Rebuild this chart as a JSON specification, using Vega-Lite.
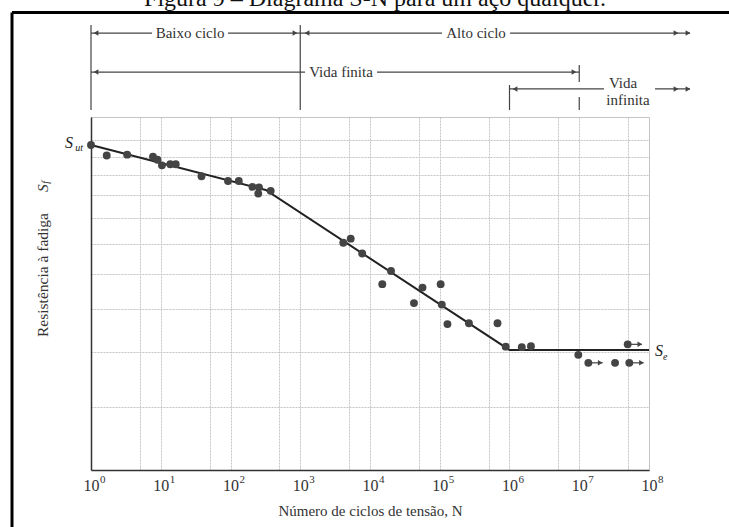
{
  "$schema": "https://vega.github.io/schema/vega-lite/v6.json",
  "width": 558,
  "height": 353,
  "autosize": {"type": "none"},
  "padding": {"left": 91, "top": 117, "right": 80, "bottom": 57},
  "background": "white",
  "config": {
    "font": "Liberation Serif",
    "view": {"stroke": "#c4c4c4", "strokeWidth": 1}
  },
  "datasets": {
    "pts": [
      {"N": 1, "S": 116.8}, {"N": 1.68, "S": 110.6}, {"N": 3.3, "S": 111.1}, {"N": 7.74, "S": 109.9},
      {"N": 8.98, "S": 108.2}, {"N": 10.4, "S": 105.1}, {"N": 13.7, "S": 105.7}, {"N": 16.4, "S": 105.7},
      {"N": 38.4, "S": 99.3}, {"N": 92.1, "S": 96.9}, {"N": 131.5, "S": 96.9}, {"N": 206.7, "S": 94.0},
      {"N": 256, "S": 93.8}, {"N": 250, "S": 90.8}, {"N": 377, "S": 92.1}, {"N": 4140, "S": 70.4},
      {"N": 5290, "S": 71.9}, {"N": 7730, "S": 66.6}, {"N": 15000, "S": 56.8}, {"N": 20000, "S": 60.8},
      {"N": 42700, "S": 51.5}, {"N": 56600, "S": 55.8}, {"N": 103000, "S": 56.8}, {"N": 107000, "S": 51.1},
      {"N": 129000, "S": 46.2}, {"N": 262000, "S": 46.4}, {"N": 673000, "S": 46.4}, {"N": 883000, "S": 41.1},
      {"N": 1500000, "S": 41.0}, {"N": 2030000, "S": 41.2}, {"N": 9690000, "S": 39.4}, {"N": 13500000, "S": 37.8},
      {"N": 32600000, "S": 37.8}, {"N": 52200000, "S": 37.8}, {"N": 49500000, "S": 41.6}
    ],
    "fit": [
      {"N": 1, "S": 116.8}, {"N": 320, "S": 92.5}, {"N": 1000000, "S": 40.4}, {"N": 100000000, "S": 40.4}
    ],
    "frame": [
      {"N": 0.0737, "N2": 3900000000, "S": 231.9, "S2": 231.9},
      {"N": 0.0737, "N2": 0.0737, "S": 231.9, "S2": 13.6}
    ],
    "guides": [
      {"N": 1, "N2": 1, "S": 217.4, "S2": 140},
      {"N": 1000, "N2": 1000, "S": 217.4, "S2": 140},
      {"N": 1000000, "N2": 1000000, "S": 159.3, "S2": 140},
      {"N": 10000000, "N2": 10000000, "S": 176.7, "S2": 161.8},
      {"N": 10000000, "N2": 10000000, "S": 149.7, "S2": 140},
      {"N": 1, "N2": 7.49, "S": 208.5, "S2": 208.5},
      {"N": 92.1, "N2": 1000, "S": 208.5, "S2": 208.5},
      {"N": 1000, "N2": 107700, "S": 208.5, "S2": 208.5},
      {"N": 1017000, "N2": 387000000, "S": 208.5, "S2": 208.5},
      {"N": 1, "N2": 1170, "S": 170.4, "S2": 170.4},
      {"N": 12600, "N2": 10000000, "S": 170.4, "S2": 170.4},
      {"N": 1000000, "N2": 22600000, "S": 156.1, "S2": 156.1},
      {"N": 122000000, "N2": 387000000, "S": 156.1, "S2": 156.1},
      {"N": 13500000, "N2": 21600000, "S": 37.8, "S2": 37.8},
      {"N": 52200000, "N2": 83500000, "S": 37.8, "S2": 37.8},
      {"N": 49500000, "N2": 79000000, "S": 41.6, "S2": 41.6}
    ],
    "heads": [
      {"N": 1.18, "S": 208.5, "dir": "left"}, {"N": 841, "S": 208.5, "dir": "right"},
      {"N": 1250, "S": 208.5, "dir": "left"}, {"N": 244000000, "S": 208.5, "dir": "right"},
      {"N": 362000000, "S": 208.5, "dir": "right"},
      {"N": 1.18, "S": 170.4, "dir": "left"}, {"N": 8410000, "S": 170.4, "dir": "right"},
      {"N": 1200000, "S": 156.1, "dir": "left"}, {"N": 244000000, "S": 156.1, "dir": "right"},
      {"N": 362000000, "S": 156.1, "dir": "right"},
      {"N": 20000000, "S": 37.8, "dir": "right"}, {"N": 78000000, "S": 37.8, "dir": "right"},
      {"N": 74000000, "S": 41.6, "dir": "right"}
    ],
    "labels": [
      {"N": 26.3, "S": 208.5, "t": "Baixo ciclo"},
      {"N": 331000, "S": 208.5, "t": "Alto ciclo"},
      {"N": 3840, "S": 170.4, "t": "Vida finita"},
      {"N": 42400000, "S": 161.0, "t": "Vida"},
      {"N": 50000000, "S": 147.4, "t": "infinita"}
    ],
    "caption": [
      {"N": 11800, "S": 239.9, "t": "Figura 9 – Diagrama S-N para um aço qualquer."}
    ],
    "ytitle": [{"N": 0.205, "S": 82.1, "t": "Resistência à fadiga"}],
    "ytitleS": [{"N": 0.205, "S": 91.5, "t": "S"}],
    "ytitleF": [{"N": 0.205, "S": 95.6, "t": "f"}],
    "sut": [{"N": 1, "S": 116.8, "s": "S", "sub": "ut"}],
    "se": [{"N": 100000000, "S": 40.4, "s": "S", "sub": "e"}],
    "exps": [
      {"N": 1, "S": 20.08, "e": "0"}, {"N": 10, "S": 20.08, "e": "1"}, {"N": 100, "S": 20.08, "e": "2"},
      {"N": 1000, "S": 20.08, "e": "3"}, {"N": 10000, "S": 20.08, "e": "4"}, {"N": 100000, "S": 20.08, "e": "5"},
      {"N": 1000000, "S": 20.08, "e": "6"}, {"N": 10000000, "S": 20.08, "e": "7"}, {"N": 100000000, "S": 20.08, "e": "8"}
    ]
  },
  "encoding": {
    "x": {
      "field": "N", "type": "quantitative",
      "scale": {"type": "log", "domain": [1, 100000000], "nice": false},
      "axis": {
        "values": [1, 5, 10, 50, 100, 500, 1000, 5000, 10000, 50000, 100000, 500000, 1000000, 5000000, 10000000, 50000000, 100000000],
        "labelExpr": "abs(log(datum.value)/LN10 - round(log(datum.value)/LN10)) < 0.01 ? '10' : ''",
        "labelOverlap": false, "labelFlush": false, "labelAngle": 0,
        "ticks": false, "tickSize": 0,
        "labelPadding": 15, "labelBaseline": "middle", "labelFontSize": 16, "labelColor": "#333",
        "domainColor": "#333", "domainWidth": 1.5,
        "grid": true, "gridColor": "#c4c4c4", "gridDash": [2, 1],
        "title": "Número de ciclos de tensão, N",
        "titleFontSize": 15, "titleFontWeight": "normal", "titleColor": "#333",
        "titleY": 40, "titleBaseline": "middle"
      }
    },
    "y": {
      "field": "S", "type": "quantitative",
      "scale": {"type": "log", "domain": [21.7, 135], "nice": false, "zero": false},
      "axis": {
        "values": [30, 40, 50, 60, 70, 80, 90, 100, 110, 120],
        "labels": false, "ticks": false, "title": null,
        "domainColor": "#333", "domainWidth": 1.5,
        "grid": true, "gridColor": "#c4c4c4", "gridDash": [2, 1]
      }
    }
  },
  "layer": [
    {
      "data": {"name": "frame"},
      "mark": {"type": "rule", "color": "#000", "strokeWidth": 3},
      "encoding": {"x2": {"field": "N2"}, "y2": {"field": "S2"}}
    },
    {
      "data": {"name": "guides"},
      "mark": {"type": "rule", "color": "#444", "strokeWidth": 1.2},
      "encoding": {"x2": {"field": "N2"}, "y2": {"field": "S2"}}
    },
    {
      "data": {"name": "heads"},
      "mark": {"type": "point", "filled": true, "color": "#444", "size": 30, "opacity": 1},
      "encoding": {
        "shape": {"field": "dir", "type": "nominal", "scale": {"domain": ["left", "right"], "range": ["triangle-left", "triangle-right"]}, "legend": null}
      }
    },
    {
      "data": {"name": "labels"},
      "mark": {"type": "text", "fontSize": 15, "color": "#333", "align": "center", "baseline": "middle"},
      "encoding": {"text": {"field": "t"}}
    },
    {
      "data": {"name": "caption"},
      "mark": {"type": "text", "fontSize": 24, "color": "#111", "align": "center", "baseline": "alphabetic"},
      "encoding": {"text": {"field": "t"}}
    },
    {
      "data": {"name": "ytitle"},
      "mark": {"type": "text", "fontSize": 15.5, "color": "#333", "angle": 270, "align": "right", "baseline": "middle"},
      "encoding": {"text": {"field": "t"}}
    },
    {
      "data": {"name": "ytitleS"},
      "mark": {"type": "text", "fontSize": 15.5, "fontStyle": "italic", "color": "#333", "angle": 270, "align": "left", "baseline": "middle"},
      "encoding": {"text": {"field": "t"}}
    },
    {
      "data": {"name": "ytitleF"},
      "mark": {"type": "text", "fontSize": 10, "fontStyle": "italic", "color": "#333", "angle": 270, "align": "left", "baseline": "middle", "dy": 3},
      "encoding": {"text": {"field": "t"}}
    },
    {
      "data": {"name": "fit"},
      "mark": {"type": "line", "color": "#222", "strokeWidth": 2},
      "encoding": {}
    },
    {
      "data": {"name": "pts"},
      "mark": {"type": "point", "filled": true, "color": "#444", "size": 62, "opacity": 1},
      "encoding": {}
    },
    {
      "data": {"name": "sut"},
      "mark": {"type": "text", "fontSize": 16, "fontStyle": "italic", "color": "#222", "align": "right", "baseline": "middle", "dx": -18, "dy": -2},
      "encoding": {"text": {"field": "s"}}
    },
    {
      "data": {"name": "sut"},
      "mark": {"type": "text", "fontSize": 10, "fontStyle": "italic", "color": "#222", "align": "right", "baseline": "middle", "dx": -8, "dy": 3},
      "encoding": {"text": {"field": "sub"}}
    },
    {
      "data": {"name": "se"},
      "mark": {"type": "text", "fontSize": 16, "fontStyle": "italic", "color": "#222", "align": "left", "baseline": "middle", "dx": 6, "dy": 1},
      "encoding": {"text": {"field": "s"}}
    },
    {
      "data": {"name": "se"},
      "mark": {"type": "text", "fontSize": 10, "fontStyle": "italic", "color": "#222", "align": "left", "baseline": "middle", "dx": 14, "dy": 7},
      "encoding": {"text": {"field": "sub"}}
    },
    {
      "data": {"name": "exps"},
      "mark": {"type": "text", "fontSize": 11, "color": "#333", "align": "left", "baseline": "middle", "dx": 9, "dy": -5},
      "encoding": {"text": {"field": "e"}}
    }
  ]
}
